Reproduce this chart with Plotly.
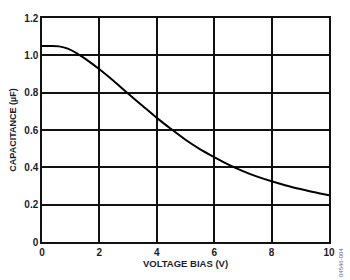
import plotly.graph_objects as go

voltage_bias = [0, 0.3, 0.6, 0.9, 1.2, 1.5, 2, 2.5, 3, 3.5, 4, 4.5, 5, 5.5, 6, 6.5, 7, 7.5, 8, 8.5, 9, 9.5, 10]
capacitance = [1.05, 1.05, 1.048, 1.036, 1.012, 0.982, 0.925, 0.862, 0.795, 0.73, 0.665, 0.605, 0.548,
               0.498, 0.455, 0.415, 0.38, 0.35, 0.325, 0.303, 0.284, 0.266, 0.25]
x_ticks = [0, 2, 4, 6, 8, 10]
y_ticks = [0, 0.2, 0.4, 0.6, 0.8, 1.0, 1.2]
y_tick_labels = ["0", "0.2", "0.4", "0.6", "0.8", "1.0", "1.2"]

fig = go.Figure()
fig.add_trace(go.Scatter(x=voltage_bias, y=capacitance, mode="lines",
                         line=dict(color="black", width=2, shape="spline", smoothing=0.8),
                         showlegend=False, hoverinfo="skip"))

font = dict(family="Liberation Sans, Arial, sans-serif", size=10, color="#1c1c2c")
axis_common = dict(showgrid=True, gridcolor="#111", gridwidth=1.5, showline=True, linecolor="#111", linewidth=1.5,
                   mirror=True, zeroline=False, ticks="", tickfont=dict(font, size=10))
fig.update_layout(
    width=350, height=280, margin=dict(l=37, r=21, t=12, b=35),
    paper_bgcolor="white", plot_bgcolor="white",
    font=font,
    xaxis=dict(axis_common, range=[0, 10], tickvals=x_ticks, ticktext=[f"<b>{v}</b>" for v in x_ticks],
               title=dict(text="<b>VOLTAGE BIAS (V)</b>", font=dict(size=9.5), standoff=4)),
    yaxis=dict(axis_common, range=[0, 1.2], tickvals=y_ticks, ticktext=[f"<b>{t}</b>" for t in y_tick_labels],
               title=dict(text="<b>CAPACITANCE (µF)</b>", font=dict(size=9), standoff=6)),
)
fig.add_annotation(text="04546-004", xref="paper", yref="paper", x=1.0, y=-0.02, xshift=12, yanchor="top",
                   xanchor="center", textangle=-90, showarrow=False,
                   font=dict(family="Liberation Sans, Arial, sans-serif", size=6, color="#5566aa"))
fig.write_html("out.html")
